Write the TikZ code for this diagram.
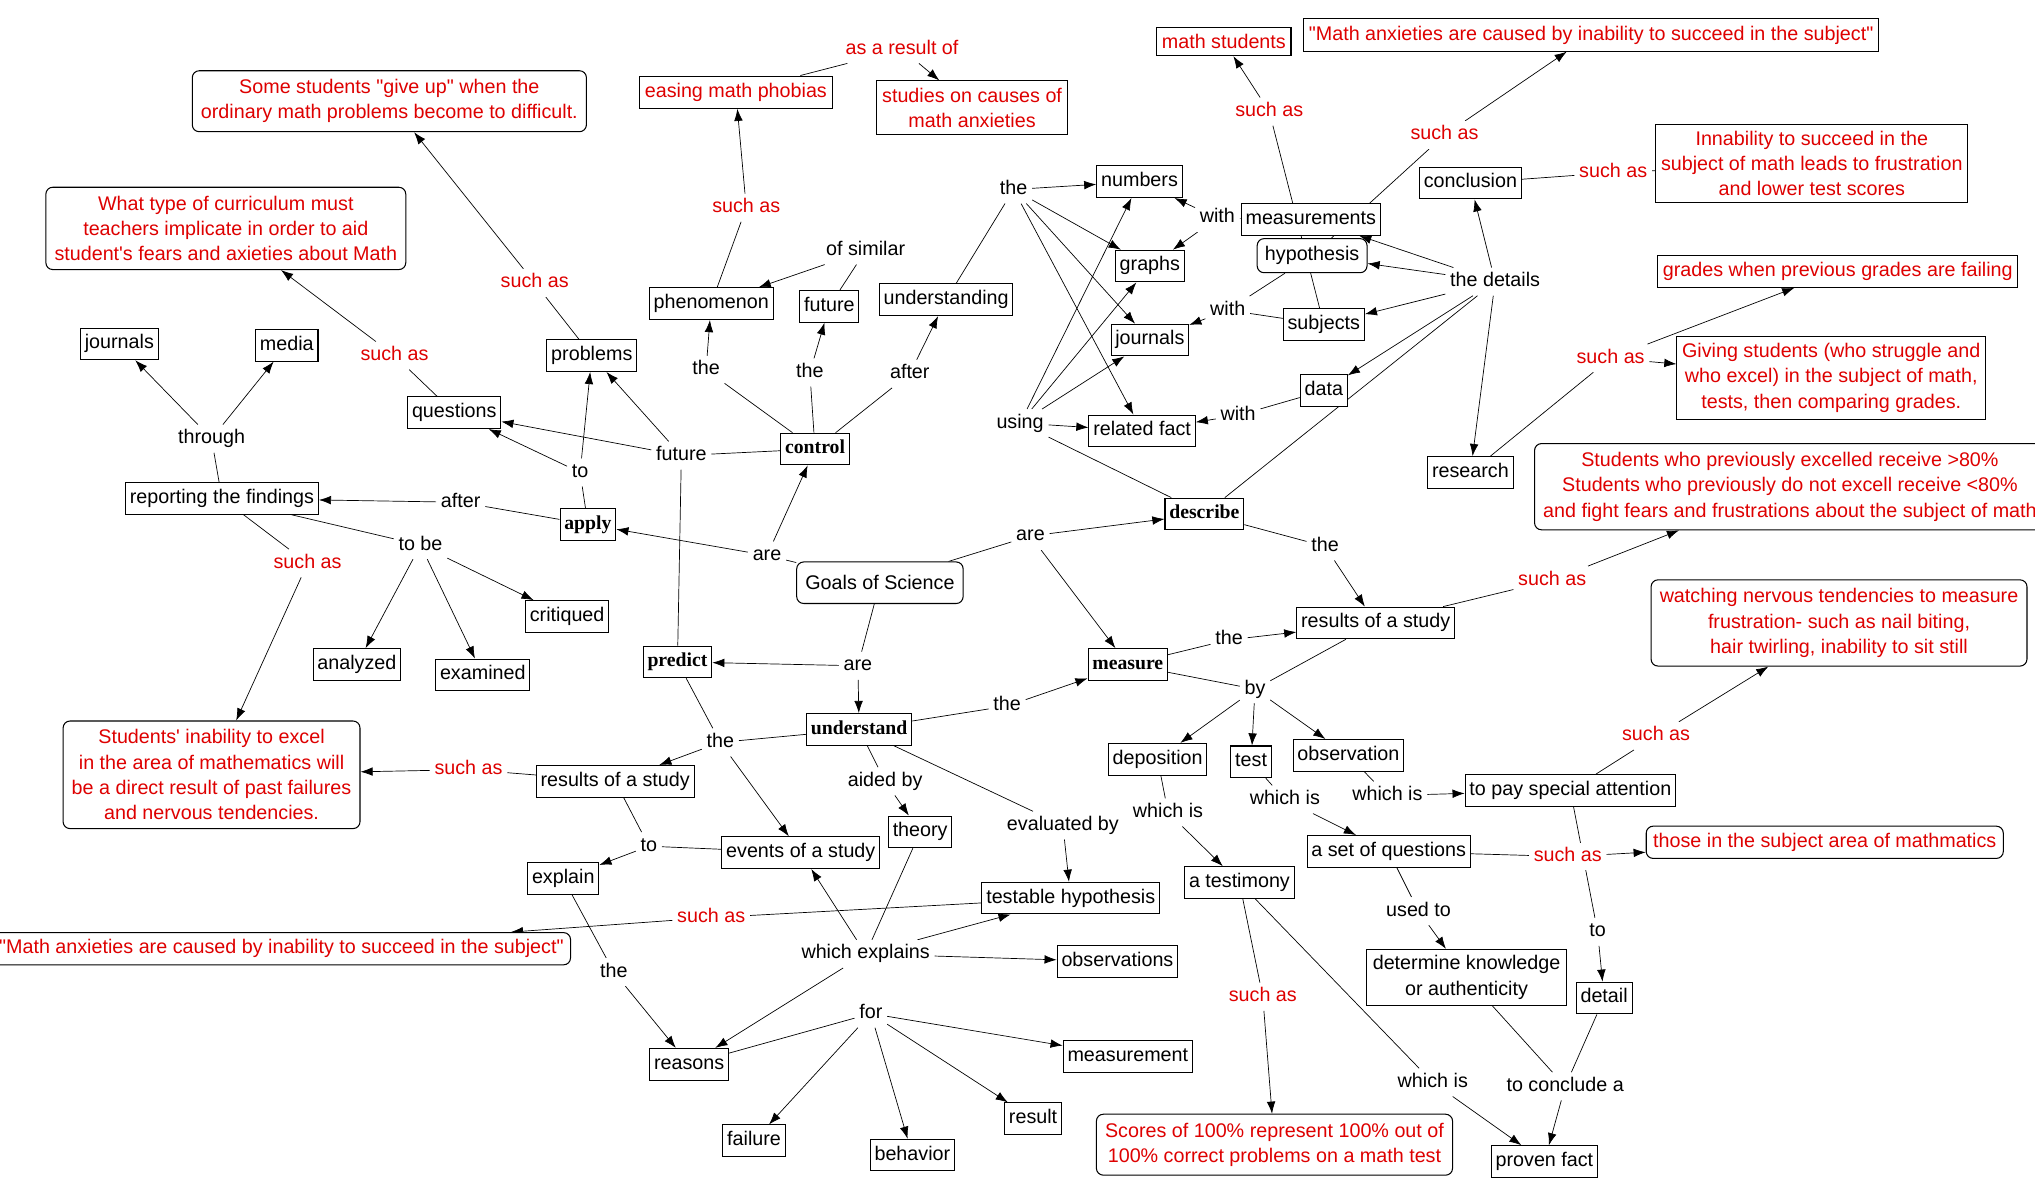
\documentclass[tikz,border=0pt]{standalone}
\usepackage{fontspec}
\setmainfont{Liberation Sans}[Ligatures=TeXOff]
\newfontfamily\goalfont{Liberation Serif}
\usepackage{tikz}
\usetikzlibrary{arrows.meta,backgrounds}
\definecolor{cmapred}{RGB}{222,0,0}

\begin{document}
\begin{tikzpicture}[x=0.75pt,y=-0.75pt,line width=0.6pt,
  font=\fontsize{11.4}{14.6}\selectfont,
  concept/.style={draw,fill=white,inner xsep=2.5pt,inner ysep=3.8pt,text height=8.2pt,text depth=2.5pt},
  twoline/.style={draw,fill=white,inner sep=3.5pt,align=center},
  goal/.style={concept,font=\fontsize{11.4}{14.6}\selectfont\goalfont\bfseries},
  redbox/.style={draw,fill=white,text=cmapred,align=center,inner xsep=3pt,inner ysep=4pt},
  redround/.style={redbox,rounded corners=4pt,inner sep=5pt},
  link/.style={fill=white,inner sep=2.5pt,text height=8.2pt,text depth=2.5pt},
  redlink/.style={link,text=cmapred},
  arr/.style={-{Latex[length=7pt,width=5pt]}}]

\useasboundingbox (0,0) rectangle (1568,924);

% concepts
\node[draw,fill=white,rounded corners=4pt,inner xsep=5pt,minimum height=24pt] (goals) at (678,449) {Goals of Science};
\node[goal] (control) at (628,346) {control};
\node[goal] (apply) at (453,404) {apply};
\node[goal] (describe) at (928,396) {describe};
\node[goal] (predict) at (522,510) {predict};
\node[goal] (measure) at (869,512) {measure};
\node[goal] (understand) at (662,562) {understand};

\node[concept] (journalsL) at (92,265) {journals};
\node[concept] (media) at (221,266) {media};
\node[concept] (reporting) at (171,384) {reporting the findings};
\node[concept] (questions) at (350,318) {questions};
\node[concept] (problems) at (456,274) {problems};
\node[concept] (critiqued) at (437,475) {critiqued};
\node[concept] (analyzed) at (275,512) {analyzed};
\node[concept] (examined) at (372,520) {examined};
\node[concept] (phenom) at (548,234) {phenomenon};
\node[concept] (futurebox) at (639,236) {future};
\node[concept] (understanding) at (729,231) {understanding};
\node[concept] (numbers) at (878,140) {numbers};
\node[concept] (graphs) at (886,205) {graphs};
\node[concept] (journalsM) at (886,262) {journals};
\node[concept] (relfact) at (880,332) {related fact};
\node[concept,rounded corners=4pt,inner sep=4.5pt] (hypothesis) at (1011,197) {hypothesis};
\node[concept] (measurements) at (1010,169) {measurements};
\node[concept] (subjects) at (1020,250) {subjects};
\node[concept] (data) at (1020,301) {data};
\node[concept] (conclusion) at (1133,141) {conclusion};
\node[concept] (research) at (1133,364) {research};
\node[concept] (resultsR) at (1060,480) {results of a study};
\node[concept] (deposition) at (892,585) {deposition};
\node[concept] (test) at (964,587) {test};
\node[concept] (observation) at (1039,582) {observation};
\node[concept] (payatt) at (1210,609) {to pay special attention};
\node[concept] (setq) at (1070,656) {a set of questions};
\node[concept] (testimony) at (955,680) {a testimony};
\node[twoline] (determine) at (1130,753) {determine knowledge\\or authenticity};
\node[concept] (detail) at (1236,769) {detail};
\node[concept] (proven) at (1190,895) {proven fact};
\node[concept] (resultsL) at (474,602) {results of a study};
\node[concept] (theory) at (709,641) {theory};
\node[concept] (events) at (617,657) {events of a study};
\node[concept] (explain) at (434,677) {explain};
\node[concept] (testable) at (825,692) {testable hypothesis};
\node[concept] (observations) at (861,741) {observations};
\node[concept] (reasons) at (531,820) {reasons};
\node[concept] (measurement) at (869,814) {measurement};
\node[concept] (result) at (796,862) {result};
\node[concept] (failure) at (581,879) {failure};
\node[concept] (behavior) at (703,890) {behavior};

% examples in red
\node[redround] (somestud) at (300,78) {Some students "give up" when the\\ordinary math problems become to difficult.};
\node[redround] (whattype) at (174,176) {What type of curriculum must\\teachers implicate in order to aid\\student's fears and axieties about Math};
\node[redbox] (easing) at (567,71) {easing math phobias};
\node[redbox] (studies) at (749,83) {studies on causes of\\math anxieties};
\node[redbox] (mathstud) at (943,32) {math students};
\node[redbox] (mathanxT) at (1226,27) {"Math anxieties are caused by inability to succeed in the subject"};
\node[redbox] (innability) at (1396,126) {Innability to succeed in the\\subject of math leads to frustration\\and lower test scores};
\node[redbox] (grades) at (1416,209) {grades when previous grades are failing};
\node[redbox] (giving) at (1411,291) {Giving students (who struggle and\\who excel) in the subject of math,\\tests, then comparing grades.};
\node[redround,anchor=west] (previously) at (1182,375) {Students who previously excelled receive >80\%\\Students who previously do not excell receive <80\%\\and fight fears and frustrations about the subject of math};
\node[redround] (watching) at (1417,480) {watching nervous tendencies to measure\\frustration- such as nail biting,\\hair twirling, inability to sit still};
\node[redround,inner sep=4pt] (those) at (1406,649) {those in the subject area of mathmatics};
\node[redround] (scores) at (982,882) {Scores of 100\% represent 100\% out of\\100\% correct problems on a math test};
\node[redround] (inability) at (163,597) {Students' inability to excel\\in the area of mathematics will\\be a direct result of past failures\\and nervous tendencies.};
\node[redround,anchor=east,inner sep=4pt] (mathanxB) at (440,731) {"Math anxieties are caused by inability to succeed in the subject"};

% linking phrases
\node[link] (through) at (163,338) {through};
\node[link] (after1) at (355,387) {after};
\node[link] (to1) at (447,364) {to};
\node[link] (future) at (525,351) {future};
\node[link] (the1) at (544,285) {the};
\node[link] (the2) at (624,287) {the};
\node[link] (after2) at (701,288) {after};
\node[link] (ofsimilar) at (667,193) {of similar};
\node[link] (the3) at (781,146) {the};
\node[link] (with1) at (938,168) {with};
\node[link] (with2) at (946,239) {with};
\node[link] (details) at (1152,217) {the details};
\node[link] (with3) at (954,320) {with};
\node[link] (using) at (786,326) {using};
\node[link] (tobe) at (324,420) {to be};
\node[link] (are1) at (591,428) {are};
\node[link] (are2) at (794,413) {are};
\node[link] (are3) at (661,513) {are};
\node[link] (the4) at (1021,421) {the};
\node[link] (the5) at (947,493) {the};
\node[link] (by) at (967,531) {by};
\node[link] (the6) at (776,544) {the};
\node[link] (the7) at (555,572) {the};
\node[link] (whichis1) at (900,626) {which is};
\node[link] (whichis2) at (990,616) {which is};
\node[link] (whichis3) at (1069,613) {which is};
\node[link] (usedto) at (1093,702) {used to};
\node[link] (to2) at (1231,718) {to};
\node[link] (whichis4) at (1104,834) {which is};
\node[link] (conclude) at (1206,837) {to conclude a};
\node[link] (aidedby) at (682,602) {aided by};
\node[link] (evalby) at (819,636) {evaluated by};
\node[link] (to3) at (500,652) {to};
\node[link] (whichexp) at (667,735) {which explains};
\node[link] (the8) at (473,749) {the};
\node[link] (for) at (671,781) {for};

\node[redlink] (s1) at (304,274) {such as};
\node[redlink] (s2) at (412,218) {such as};
\node[redlink] (s3) at (575,160) {such as};
\node[redlink] (resultof) at (695,38) {as a result of};
\node[redlink] (s4) at (978,86) {such as};
\node[redlink] (s5) at (1113,104) {such as};
\node[redlink] (s6) at (1243,133) {such as};
\node[redlink] (s7) at (1241,276) {such as};
\node[redlink] (s8) at (237,434) {such as};
\node[redlink] (s9) at (1196,447) {such as};
\node[redlink] (s10) at (1276,567) {such as};
\node[redlink] (s11) at (1208,660) {such as};
\node[redlink] (s12) at (973,768) {such as};
\node[redlink] (s13) at (361,593) {such as};
\node[redlink] (s14) at (548,707) {such as};

\begin{scope}[on background layer]
% goals
\draw (goals) -- (are1);
\draw[arr] (are1) -- (apply);
\draw[arr] (are1) -- (control);
\draw (goals) -- (are2);
\draw[arr] (are2) -- (describe);
\draw[arr] (are2) -- (measure);
\draw (goals) -- (are3);
\draw[arr] (are3) -- (predict);
\draw[arr] (are3) -- (understand);

% control and apply
\draw (control) -- (the1);
\draw[arr] (the1) -- (phenom);
\draw (control) -- (the2);
\draw[arr] (the2) -- (futurebox);
\draw (control) -- (after2);
\draw[arr] (after2) -- (understanding);
\draw (control) -- (future);
\draw (predict) -- (future);
\draw[arr] (future) -- (questions);
\draw[arr] (future) -- (problems);
\draw (apply) -- (to1);
\draw[arr] (to1) -- (questions);
\draw[arr] (to1) -- (problems);
\draw (apply) -- (after1);
\draw[arr] (after1) -- (reporting);
\draw (reporting) -- (through);
\draw[arr] (through) -- (journalsL);
\draw[arr] (through) -- (media);
\draw (reporting) -- (tobe);
\draw[arr] (tobe) -- (critiqued);
\draw[arr] (tobe) -- (analyzed);
\draw[arr] (tobe) -- (examined);
\draw (reporting) -- (s8);
\draw[arr] (s8) -- (inability);
\draw (questions) -- (s1);
\draw[arr] (s1) -- (whattype);
\draw (problems) -- (s2);
\draw[arr] (s2) -- (somestud);
\draw (phenom) -- (s3);
\draw[arr] (s3) -- (easing);
\draw (easing) -- (resultof);
\draw[arr] (resultof) -- (studies);
\draw (futurebox) -- (ofsimilar);
\draw[arr] (ofsimilar) -- (phenom);
\draw (understanding) -- (the3);
\draw[arr] (the3) -- (numbers);
\draw[arr] (the3) -- (graphs);
\draw[arr] (the3) -- (journalsM);
\draw[arr] (the3) -- (relfact);

% describe
\draw (describe) -- (using);
\draw[arr] (using) -- (relfact);
\draw[arr] (using) -- (numbers);
\draw[arr] (using) -- (graphs);
\draw[arr] (using) -- (journalsM);
\draw (describe) -- (details);
\draw[arr] (details) -- (measurements);
\draw[arr] (details) -- (hypothesis);
\draw[arr] (details) -- (subjects);
\draw[arr] (details) -- (data);
\draw[arr] (details) -- (conclusion);
\draw[arr] (details) -- (research);
\draw (measurements) -- (with1);
\draw[arr] (with1) -- (numbers);
\draw[arr] (with1) -- (graphs);
\draw (hypothesis) -- (with2);
\draw (subjects) -- (with2);
\draw[arr] (with2) -- (journalsM);
\draw (data) -- (with3);
\draw[arr] (with3) -- (relfact);
\draw (subjects) -- (s4);
\draw[arr] (s4) -- (mathstud);
\draw (hypothesis) -- (s5);
\draw[arr] (s5) -- (mathanxT);
\draw (conclusion) -- (s6);
\draw (s6) -- (innability);
\draw (research) -- (s7);
\draw[arr] (s7) -- (grades);
\draw[arr] (s7) -- (giving);
\draw (describe) -- (the4);
\draw[arr] (the4) -- (resultsR);
\draw (resultsR) -- (s9);
\draw[arr] (s9) -- (previously);

% measure
\draw (measure) -- (the5);
\draw[arr] (the5) -- (resultsR);
\draw (measure) -- (by);
\draw (resultsR) -- (by);
\draw[arr] (by) -- (deposition);
\draw[arr] (by) -- (test);
\draw[arr] (by) -- (observation);
\draw (deposition) -- (whichis1);
\draw[arr] (whichis1) -- (testimony);
\draw (test) -- (whichis2);
\draw[arr] (whichis2) -- (setq);
\draw (observation) -- (whichis3);
\draw[arr] (whichis3) -- (payatt);
\draw (payatt) -- (s10);
\draw[arr] (s10) -- (watching);
\draw (payatt) -- (to2);
\draw[arr] (to2) -- (detail);
\draw (setq) -- (s11);
\draw[arr] (s11) -- (those);
\draw (setq) -- (usedto);
\draw[arr] (usedto) -- (determine);
\draw (determine) -- (conclude);
\draw (detail) -- (conclude);
\draw[arr] (conclude) -- (proven);
\draw (testimony) -- (s12);
\draw[arr] (s12) -- (scores);
\draw (testimony) -- (whichis4);
\draw[arr] (whichis4) -- (proven);

% understand and predict
\draw (understand) -- (the6);
\draw[arr] (the6) -- (measure);
\draw (understand) -- (the7);
\draw (predict) -- (the7);
\draw[arr] (the7) -- (resultsL);
\draw[arr] (the7) -- (events);
\draw (understand) -- (aidedby);
\draw[arr] (aidedby) -- (theory);
\draw (understand) -- (evalby);
\draw[arr] (evalby) -- (testable);
\draw (resultsL) -- (s13);
\draw[arr] (s13) -- (inability);
\draw (resultsL) -- (to3);
\draw (events) -- (to3);
\draw[arr] (to3) -- (explain);
\draw (explain) -- (the8);
\draw[arr] (the8) -- (reasons);
\draw (testable) -- (s14);
\draw[arr] (s14) -- (mathanxB);
\draw (theory) -- (whichexp);
\draw[arr] (whichexp) -- (events);
\draw[arr] (whichexp) -- (testable);
\draw[arr] (whichexp) -- (observations);
\draw[arr] (whichexp) -- (reasons);
\draw (reasons) -- (for);
\draw[arr] (for) -- (measurement);
\draw[arr] (for) -- (result);
\draw[arr] (for) -- (behavior);
\draw[arr] (for) -- (failure);
\end{scope}

\end{tikzpicture}
\end{document}
